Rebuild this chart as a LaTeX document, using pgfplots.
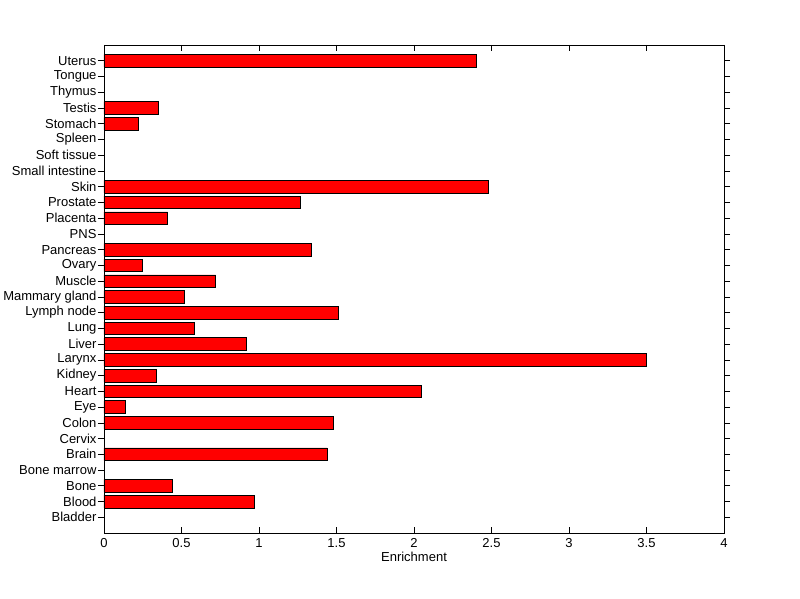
\documentclass[border=0pt]{standalone}
\usepackage{pgfplots}
\pgfplotsset{compat=1.18}
\usepackage{fontspec}
\setmainfont{Liberation Sans}
\begin{document}
\begin{tikzpicture}[x=1pt,y=1pt]
\useasboundingbox (0,0) rectangle (800,599);
\begin{axis}[
  at={(104pt,66pt)}, anchor=south west,
  scale only axis, width=620pt, height=488pt,
  xmin=0, xmax=4, ymin=-1, ymax=30,
  xtick={0,0.5,...,4},
  xticklabels={0,0.5,1,1.5,2,2.5,3,3.5,4},
  ytick={0,...,29},
  yticklabels={Bladder,Blood,Bone,Bone marrow,Brain,Cervix,Colon,Eye,Heart,Kidney,Larynx,Liver,Lung,Lymph node,Mammary gland,Muscle,Ovary,Pancreas,PNS,Placenta,Prostate,Skin,Small intestine,Soft tissue,Spleen,Stomach,Testis,Thymus,Tongue,Uterus},
  tick align=inside, major tick length=6pt,
  tick style={black, line width=0.6pt},
  axis line style={line width=0.6pt},
  xticklabel style={font=\fontsize{13}{15}\selectfont, yshift=-2pt},
  yticklabel style={font=\fontsize{13}{15}\selectfont, xshift=2pt},
  /pgf/number format/assume math mode=true,
  xlabel={Enrichment},
  xlabel style={font=\fontsize{13}{15}\selectfont, yshift=3pt},
  xbar, bar width=12.6pt,
]
\addplot[fill=red, draw=black, line width=0.6pt] coordinates {
  (0.97,1) (0.44,2) (1.44,4) (1.48,6) (0.14,7) (2.045,8) (0.34,9)
  (3.50,10) (0.92,11) (0.58,12) (1.51,13) (0.52,14) (0.72,15) (0.25,16)
  (1.34,17) (0.41,19) (1.265,20) (2.48,21) (0.22,25) (0.35,26) (2.40,29)
};
\end{axis}
\end{tikzpicture}
\end{document}
